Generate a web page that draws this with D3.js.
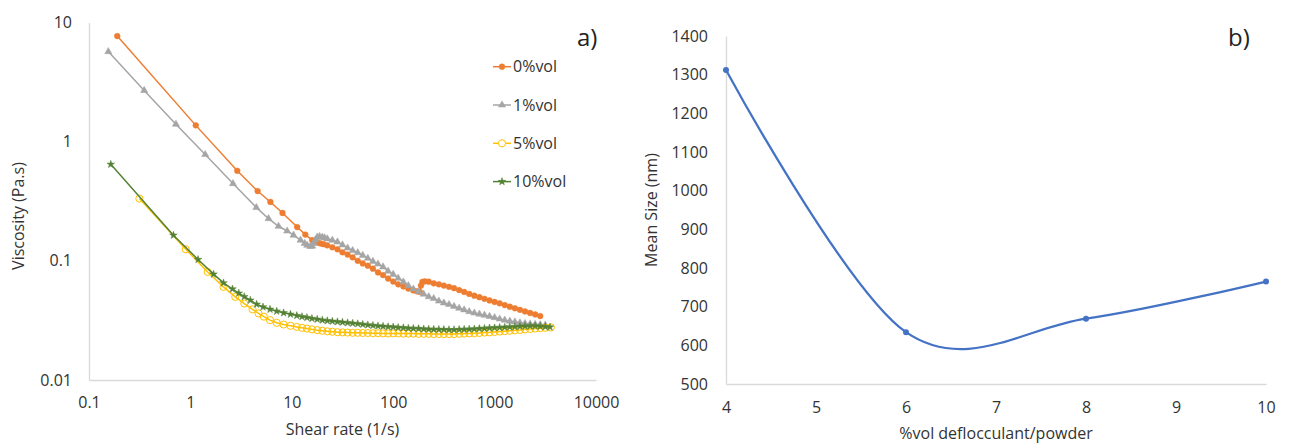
<!DOCTYPE html>
<html>
<head>
<meta charset="utf-8">
<script src="https://cdn.jsdelivr.net/npm/d3@7"></script>
<style>
body { margin:0; background:#fff; }
svg { font-family:"Open Sans", sans-serif; }
</style>
</head>
<body>
<div id="chart"></div>
<script>
// a) viscosity vs shear rate, [shear rate (1/s), viscosity (Pa.s)]
var seriesNames = ["0%vol", "1%vol", "5%vol", "10%vol"];

var vol0 = [[0.19,7.7],[1.13,1.37],[2.9,0.57],[4.6,0.385],[6.15,0.312],[8.1,0.252],[11.3,0.192],[13.6,0.166],[15.9,0.149],[17.8,0.143],[19.2,0.14],[20.5,0.138],[22.3,0.135],[25.1,0.13],[28.2,0.125],[31.6,0.118],[35.5,0.113],[39.8,0.107],[44.7,0.1],[50.1,0.095],[56.2,0.091],[63.1,0.086],[70.8,0.08],[79.4,0.076],[89.1,0.071],[100,0.067],[112,0.0635],[126,0.061],[141,0.0585],[158,0.0565],[172,0.0555],[183,0.0548],[188,0.062],[194,0.0666],[205,0.0672],[224,0.0668],[251,0.0648],[282,0.0635],[316,0.062],[355,0.0605],[398,0.059],[447,0.0568],[501,0.0548],[562,0.0528],[631,0.051],[708,0.0495],[794,0.048],[891,0.0465],[1000,0.0452],[1122,0.044],[1259,0.0425],[1413,0.0412],[1585,0.04],[1778,0.0388],[1995,0.0376],[2239,0.0365],[2512,0.0355],[2818,0.0344]];

var vol1 = [[0.155,5.7],[0.35,2.69],[0.72,1.4],[1.4,0.78],[2.63,0.445],[4.47,0.28],[5.9,0.226],[7.4,0.195],[9.0,0.178],[10.4,0.164],[12.2,0.149],[13.4,0.14],[14.2,0.135],[15.2,0.132],[15.9,0.133],[16.5,0.14],[17.1,0.15],[17.8,0.158],[18.8,0.16],[20,0.158],[21.1,0.156],[22.4,0.153],[25.1,0.149],[28.2,0.144],[31.6,0.136],[35.5,0.128],[39.8,0.122],[44.7,0.117],[50.1,0.111],[56.2,0.105],[63.1,0.099],[70.8,0.094],[79.4,0.089],[89.1,0.082],[100,0.077],[112,0.0715],[126,0.0665],[141,0.062],[158,0.058],[178,0.0552],[200,0.0525],[224,0.05],[251,0.0483],[282,0.046],[316,0.0443],[355,0.043],[398,0.0415],[447,0.04],[501,0.0388],[562,0.0375],[631,0.0365],[708,0.0357],[794,0.035],[891,0.0342],[1000,0.0334],[1122,0.0325],[1259,0.0318],[1413,0.0312],[1585,0.0307],[1778,0.0302],[1995,0.0298],[2239,0.0295],[2512,0.0293],[2818,0.0291],[3162,0.0289]];

var vol5 = [[0.314,0.333],[0.9,0.125],[1.48,0.0807],[2.12,0.0604],[2.77,0.0498],[3.4,0.0438],[4.1,0.0392],[4.7,0.0362],[5.3,0.034],[6.1,0.0318],[7.1,0.0302],[8.3,0.0292],[9.7,0.0285],[11.2,0.0279],[12.6,0.0274],[14.1,0.027],[15.8,0.0266],[17.8,0.0262],[20,0.0259],[22.4,0.0256],[25.1,0.0254],[28.2,0.0252],[31.6,0.0251],[35.5,0.025],[39.8,0.0249],[44.7,0.0249],[50.1,0.0248],[56.2,0.0248],[63.1,0.0247],[70.8,0.0247],[79.4,0.0246],[89.1,0.0246],[100,0.0246],[112,0.0246],[126,0.0245],[141,0.0245],[158,0.0245],[178,0.0244],[200,0.0244],[224,0.0244],[251,0.0243],[282,0.0243],[316,0.0243],[355,0.0243],[398,0.0243],[447,0.0244],[501,0.0245],[562,0.0246],[631,0.0247],[708,0.0248],[794,0.025],[891,0.0251],[1000,0.0253],[1122,0.0255],[1259,0.0257],[1413,0.0259],[1585,0.0261],[1778,0.0263],[1995,0.0266],[2239,0.0268],[2512,0.027],[2818,0.0272],[3162,0.0274],[3590,0.0276]];

var vol10 = [[0.164,0.645],[0.68,0.164],[1.19,0.1025],[1.69,0.0773],[2.12,0.0653],[2.6,0.058],[3.0,0.0535],[3.4,0.05],[3.9,0.0467],[4.5,0.0432],[5.2,0.041],[6.1,0.0392],[7.1,0.0378],[8.3,0.0366],[9.7,0.0356],[11.2,0.0347],[12.6,0.034],[14.1,0.0334],[15.8,0.0328],[17.8,0.0323],[20,0.0318],[22.4,0.0314],[25.1,0.0311],[28.2,0.0308],[31.6,0.0305],[35.5,0.0302],[39.8,0.0299],[44.7,0.0296],[50.1,0.0293],[56.2,0.029],[63.1,0.0287],[70.8,0.0284],[79.4,0.0282],[89.1,0.028],[100,0.0278],[112,0.0276],[126,0.0274],[141,0.0272],[158,0.0271],[178,0.027],[200,0.0268],[224,0.0267],[251,0.0266],[282,0.0265],[316,0.0265],[355,0.0264],[398,0.0264],[447,0.0265],[501,0.0266],[562,0.0267],[631,0.0268],[708,0.027],[794,0.0271],[891,0.0273],[1000,0.0274],[1122,0.0276],[1259,0.0277],[1413,0.0279],[1585,0.028],[1778,0.0282],[1995,0.0283],[2239,0.0284],[2512,0.0284],[2818,0.0282],[3162,0.028],[3520,0.0278]];

var rateTicks = [0.1, 1, 10, 100, 1000, 10000];
var viscTicks = [0.01, 0.1, 1, 10];

// b) mean size vs deflocculant
var defloc = [4, 6, 8, 10];
var meanSize = [1312, 634, 669, 765];
var deflocTicks = [4, 5, 6, 7, 8, 9, 10];
var sizeTicks = [500, 600, 700, 800, 900, 1000, 1100, 1200, 1300, 1400];

var W = 1291, H = 444;
var textCol = "#333", axisCol = "#d9d9d9";

var svg = d3.select("#chart").append("svg").attr("width", W).attr("height", H);

function styleAxis(g)
{
	g.select(".domain").attr("stroke", axisCol).attr("stroke-width", 1.3);
	g.selectAll("text").attr("fill", textCol).attr("font-size", "16px").attr("font-family", "Open Sans");
}

// ---------- chart a ----------
var x1 = d3.scaleLog().domain([0.1, 10000]).range([89, 596]);
var y1 = d3.scaleLog().domain([0.01, 10]).range([380, 22.5]);

svg.append("g").attr("transform", "translate(0,380)")
	.call(d3.axisBottom(x1).tickValues(rateTicks).tickSize(0).tickSizeOuter(0).tickPadding(17)
		.tickFormat(function(d) { return String(d); }))
	.call(styleAxis);
svg.append("g").attr("transform", "translate(89,0)")
	.call(d3.axisLeft(y1).tickValues(viscTicks).tickSize(0).tickSizeOuter(0).tickPadding(17)
		.tickFormat(function(d) { return String(d); }))
	.call(styleAxis);

var series = [
	{name:seriesNames[0], data:vol0, color:"#ED7D31", shape:d3.symbolCircle, size:26, fill:true},
	{name:seriesNames[1], data:vol1, color:"#A5A5A5", shape:d3.symbolTriangle, size:22, fill:true},
	{name:seriesNames[2], data:vol5, color:"#FFC000", shape:d3.symbolCircle, size:40, fill:false},
	{name:seriesNames[3], data:vol10, color:"#548235", shape:d3.symbolStar, size:18, fill:true}
];

var line1 = d3.line().x(function(d) { return x1(d[0]); }).y(function(d) { return y1(d[1]); });

series.forEach(function(s)
{
	var g = svg.append("g");
	g.append("path").attr("d", line1(s.data)).attr("fill", "none")
		.attr("stroke", s.color).attr("stroke-width", 1.5);
	g.selectAll("path.m").data(s.data).enter().append("path").attr("class", "m")
		.attr("d", d3.symbol().type(s.shape).size(s.size))
		.attr("transform", function(d) { return "translate(" + x1(d[0]) + "," + y1(d[1]) + ")"; })
		.attr("fill", s.fill ? s.color : "none")
		.attr("stroke", s.color).attr("stroke-width", s.fill ? 0.5 : 1);
});

// legend
var legend = svg.append("g");
series.forEach(function(s, i)
{
	var ly = 66.7 + i * 38.3;
	legend.append("line").attr("x1", 493).attr("x2", 511).attr("y1", ly).attr("y2", ly)
		.attr("stroke", s.color).attr("stroke-width", 1.5);
	legend.append("path").attr("d", d3.symbol().type(s.shape).size(s.size))
		.attr("transform", "translate(502," + ly + ")")
		.attr("fill", s.fill ? s.color : "#fff").attr("stroke", s.color).attr("stroke-width", s.fill ? 0.5 : 1);
	legend.append("text").attr("x", 513).attr("y", ly).attr("dy", "0.35em")
		.attr("font-size", "16px").attr("fill", textCol).text(s.name);
});

svg.append("text").attr("x", 342.5).attr("y", 435).attr("text-anchor", "middle")
	.attr("font-size", "16px").attr("fill", textCol).text("Shear rate (1/s)");
svg.append("text").attr("transform", "translate(24,216) rotate(-90)").attr("text-anchor", "middle")
	.attr("font-size", "16px").attr("fill", textCol).text("Viscosity (Pa.s)");
svg.append("text").attr("x", 577).attr("y", 46).attr("font-size", "24px").attr("fill", "#222").text("a)");

// ---------- chart b ----------
var x2 = d3.scaleLinear().domain([4, 10]).range([726, 1266]);
var y2 = d3.scaleLinear().domain([500, 1400]).range([384, 36]);

svg.append("g").attr("transform", "translate(0,384)")
	.call(d3.axisBottom(x2).tickValues(deflocTicks).tickSize(0).tickSizeOuter(0).tickPadding(18)
		.tickFormat(d3.format("d")))
	.call(styleAxis);
svg.append("g").attr("transform", "translate(726,0)")
	.call(d3.axisLeft(y2).tickValues(sizeTicks).tickSize(0).tickSizeOuter(0).tickPadding(18)
		.tickFormat(d3.format("d")))
	.call(styleAxis);

var pts = defloc.map(function(d, i) { return [d, meanSize[i]]; });
var line2 = d3.line().curve(d3.curveCatmullRom.alpha(0))
	.x(function(d) { return x2(d[0]); }).y(function(d) { return y2(d[1]); });

svg.append("path").attr("d", line2(pts)).attr("fill", "none")
	.attr("stroke", "#4472C4").attr("stroke-width", 2.25);
svg.selectAll("circle.b").data(pts).enter().append("circle").attr("class", "b")
	.attr("cx", function(d) { return x2(d[0]); }).attr("cy", function(d) { return y2(d[1]); })
	.attr("r", 3).attr("fill", "#4472C4");

svg.append("text").attr("x", 996).attr("y", 439).attr("text-anchor", "middle")
	.attr("font-size", "16px").attr("fill", textCol).text("%vol deflocculant/powder");
svg.append("text").attr("transform", "translate(657,210) rotate(-90)").attr("text-anchor", "middle")
	.attr("font-size", "16px").attr("fill", textCol).text("Mean Size (nm)");
svg.append("text").attr("x", 1228).attr("y", 46).attr("font-size", "24px").attr("fill", "#222").text("b)");
</script>
</body>
</html>
